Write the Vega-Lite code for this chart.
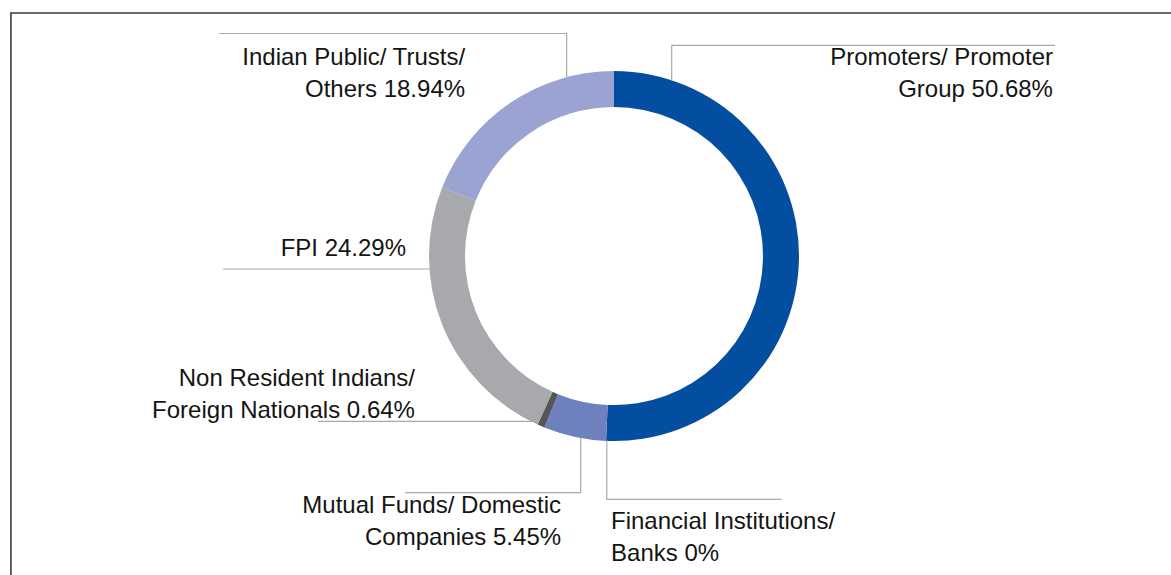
{
  "$schema": "https://vega.github.io/schema/vega-lite/v6.json",
  "width": 1171,
  "height": 575,
  "autosize": {"type": "none"},
  "padding": 0,
  "background": "white",
  "config": {"view": {"stroke": null}},
  "datasets": {
    "holding": [
      {"category": "Promoters/ Promoter Group", "share": 50.68, "order": 1},
      {"category": "Financial Institutions/ Banks", "share": 0, "order": 2},
      {"category": "Mutual Funds/ Domestic Companies", "share": 5.45, "order": 3},
      {"category": "Non Resident Indians/ Foreign Nationals", "share": 0.64, "order": 4},
      {"category": "FPI", "share": 24.29, "order": 5},
      {"category": "Indian Public/ Trusts/ Others", "share": 18.94, "order": 6}
    ],
    "leaders": [
      {"leader": "public", "step": 1, "x": -213.5, "y": 120.3},
      {"leader": "public", "step": 2, "x": -25.6, "y": 120.3},
      {"leader": "public", "step": 3, "x": -25.6, "y": 96.8},
      {"leader": "promoters", "step": 1, "x": 31.2, "y": 95.0},
      {"leader": "promoters", "step": 2, "x": 31.2, "y": 113.9},
      {"leader": "promoters", "step": 3, "x": 238.4, "y": 113.9},
      {"leader": "fpi", "step": 1, "x": -211.4, "y": -7.0},
      {"leader": "fpi", "step": 2, "x": -99.5, "y": -7.0},
      {"leader": "nri", "step": 1, "x": -160.0, "y": -89.4},
      {"leader": "nri", "step": 2, "x": -43.8, "y": -89.4},
      {"leader": "mutual", "step": 1, "x": -113.0, "y": -127.9},
      {"leader": "mutual", "step": 2, "x": -18.0, "y": -127.9},
      {"leader": "mutual", "step": 3, "x": -18.0, "y": -98.4},
      {"leader": "financial", "step": 1, "x": -3.9, "y": -99.5},
      {"leader": "financial", "step": 2, "x": -3.9, "y": -131.5},
      {"leader": "financial", "step": 3, "x": 90.6, "y": -131.5}
    ],
    "frame": [
      {"step": 1, "x": -326.0, "y": -172.4},
      {"step": 2, "x": -326.0, "y": 131.4},
      {"step": 3, "x": 301.1, "y": 131.4}
    ],
    "labels": [
      {"text": "Indian Public/ Trusts/\nOthers 18.94%", "x": -80.5, "y": 103.2, "side": "right"},
      {"text": "Promoters/ Promoter\nGroup 50.68%", "x": 237.3, "y": 103.2, "side": "right"},
      {"text": "FPI 24.29%", "x": -112.4, "y": 0.0, "side": "right"},
      {"text": "Non Resident Indians/\nForeign Nationals 0.64%", "x": -107.6, "y": -70.3, "side": "right"},
      {"text": "Mutual Funds/ Domestic\nCompanies 5.45%", "x": -28.6, "y": -138.9, "side": "right"},
      {"text": "Financial Institutions/\nBanks 0%", "x": -1.6, "y": -147.6, "side": "left"}
    ]
  },
  "resolve": {"scale": {"x": "shared", "y": "shared"}},
  "layer": [
    {
      "data": {"name": "frame"},
      "mark": {"type": "line", "stroke": "#3a3a3a", "strokeWidth": 1.6, "interpolate": "linear"},
      "encoding": {
        "x": {"field": "x", "type": "quantitative", "scale": {"domain": [-331.9, 301.1], "nice": false, "zero": false}, "axis": null},
        "y": {"field": "y", "type": "quantitative", "scale": {"domain": [-172.4, 138.4], "nice": false, "zero": false}, "axis": null},
        "order": {"field": "step"}
      }
    },
    {
      "data": {"name": "holding"},
      "mark": {"type": "arc", "outerRadius": 185, "innerRadius": 149},
      "encoding": {
        "x": {"datum": 0, "type": "quantitative"},
        "y": {"datum": 0, "type": "quantitative"},
        "theta": {"field": "share", "type": "quantitative", "stack": true},
        "order": {"field": "order"},
        "color": {
          "field": "category",
          "type": "nominal",
          "legend": null,
          "scale": {
            "domain": [
              "Promoters/ Promoter Group",
              "Financial Institutions/ Banks",
              "Mutual Funds/ Domestic Companies",
              "Non Resident Indians/ Foreign Nationals",
              "FPI",
              "Indian Public/ Trusts/ Others"
            ],
            "range": ["#044ea1", "#2f5fa8", "#6f80bf", "#555657", "#a8a9ac", "#9ba3d3"]
          }
        }
      }
    },
    {
      "data": {"name": "leaders"},
      "mark": {"type": "line", "stroke": "#a9a9a9", "strokeWidth": 1.2, "interpolate": "linear"},
      "encoding": {
        "x": {"field": "x", "type": "quantitative"},
        "y": {"field": "y", "type": "quantitative"},
        "detail": {"field": "leader"},
        "order": {"field": "step"}
      }
    },
    {
      "data": {"name": "labels"},
      "transform": [{"filter": "datum.side === 'right'"}],
      "mark": {"type": "text", "align": "right", "baseline": "alphabetic", "font": "Liberation Sans", "fontSize": 24, "lineHeight": 32, "lineBreak": "\n", "color": "#141414"},
      "encoding": {
        "x": {"field": "x", "type": "quantitative"},
        "y": {"field": "y", "type": "quantitative"},
        "text": {"field": "text"}
      }
    },
    {
      "data": {"name": "labels"},
      "transform": [{"filter": "datum.side === 'left'"}],
      "mark": {"type": "text", "align": "left", "baseline": "alphabetic", "font": "Liberation Sans", "fontSize": 24, "lineHeight": 32, "lineBreak": "\n", "color": "#141414"},
      "encoding": {
        "x": {"field": "x", "type": "quantitative"},
        "y": {"field": "y", "type": "quantitative"},
        "text": {"field": "text"}
      }
    }
  ]
}
